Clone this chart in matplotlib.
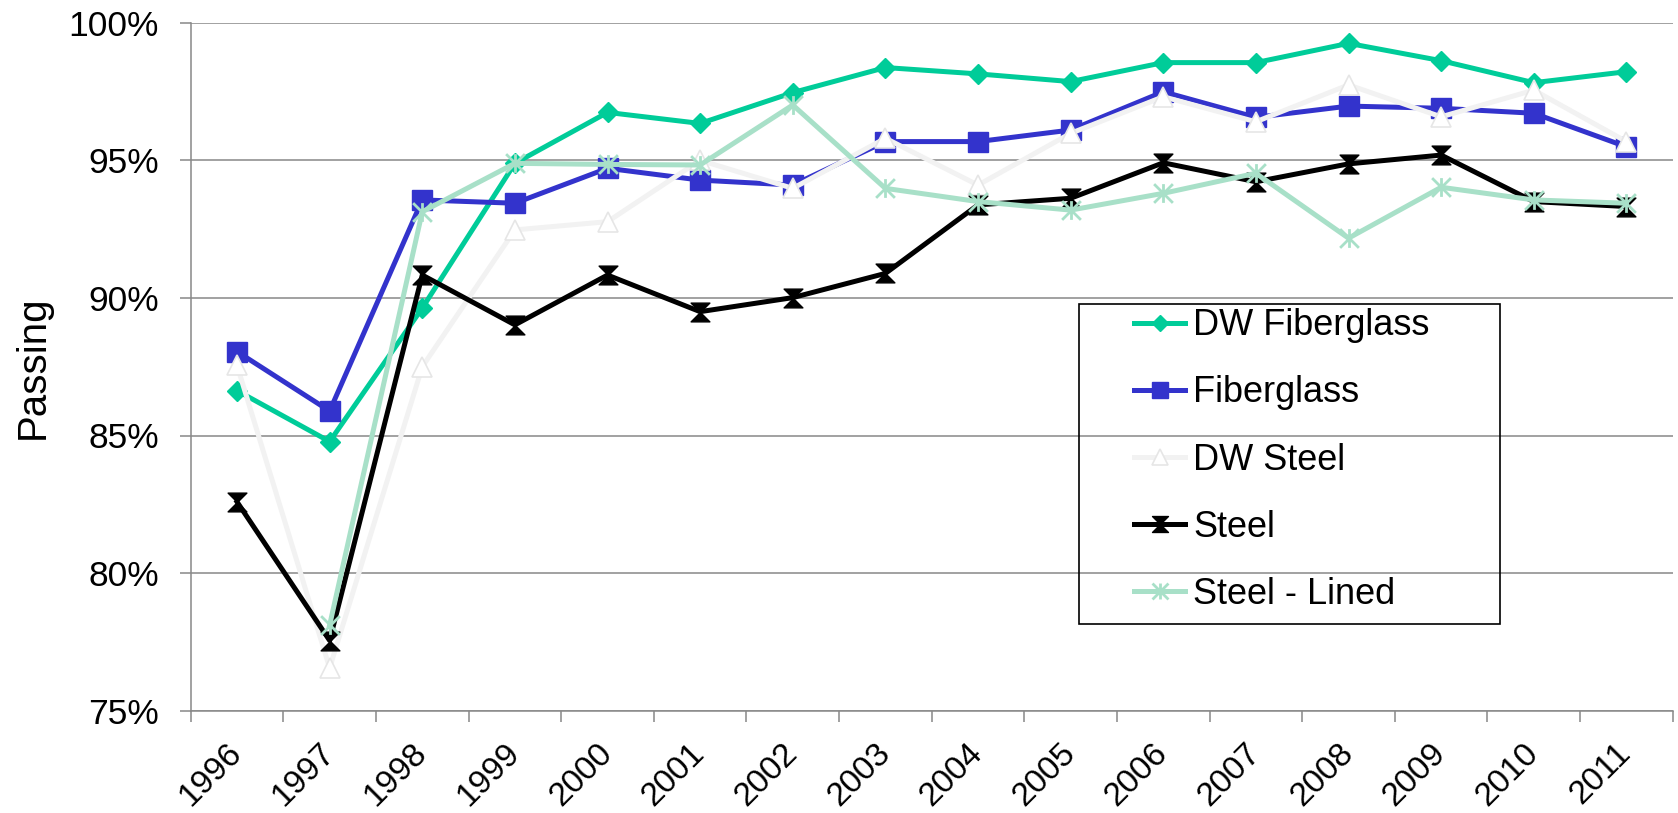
import numpy as np
import matplotlib.pyplot as plt
from matplotlib.path import Path
from matplotlib.patches import Rectangle

plt.rcParams['font.family'] = ['Liberation Sans', 'DejaVu Sans']

# valores (%)
years = [str(y) for y in range(1996, 2012)]
dw_fiberglass = [86.63, 84.78, 89.63, 94.89, 96.74, 96.34, 97.46, 98.37,
                 98.14, 97.86, 98.55, 98.55, 99.25, 98.62, 97.82, 98.22]
fiberglass = [88.05, 85.89, 93.56, 93.44, 94.71, 94.28, 94.10, 95.68,
              95.68, 96.10, 97.49, 96.56, 96.97, 96.89, 96.71, 95.49]
dw_steel = [87.55, 76.55, 87.50, 92.47, 92.77, 95.00, 93.98, 95.80,
            94.10, 95.98, 97.31, 96.40, 97.74, 96.58, 97.55, 95.68]
steel = [82.59, 77.55, 90.83, 89.02, 90.83, 89.50, 90.01, 90.89,
         93.38, 93.62, 94.91, 94.22, 94.87, 95.19, 93.50, 93.32]
steel_lined = [np.nan, 78.11, 93.13, 94.89, 94.85, 94.83, 97.01, 93.98,
               93.50, 93.19, 93.80, 94.53, 92.17, 94.02, 93.56, 93.44]
y_ticks = [75, 80, 85, 90, 95, 100]

# marcadores do excel
hourglass = Path([(-1, 1), (1, 1), (-1, -1), (1, -1), (-1, 1)],
                 [Path.MOVETO, Path.LINETO, Path.LINETO, Path.LINETO, Path.CLOSEPOLY])
star = Path([(0, -1), (0, 1), (-1, -1), (1, 1), (-1, 1), (1, -1)],
            [Path.MOVETO, Path.LINETO, Path.MOVETO, Path.LINETO, Path.MOVETO, Path.LINETO])

fig = plt.figure(figsize=(16.78, 8.13), dpi=100)
ax = fig.add_axes([190.7/1678, 1 - 710.7/813, 1482/1678, 688/813])

x = np.arange(len(years)) + 0.5
lw = 3.6
ax.plot(x, dw_fiberglass, color='#00CC99', lw=lw, marker='D', ms=10, label='DW Fiberglass', zorder=3)
ax.plot(x, fiberglass, color='#3333CC', lw=lw, marker='s', ms=14, label='Fiberglass', zorder=4)
ax.plot(x, dw_steel, color='#F2F2F2', lw=lw, marker='^', ms=14, mfc='white', mec='#E6E6E6',
        mew=1.2, label='DW Steel', zorder=5)
ax.plot(x, steel, color='black', lw=lw, marker=hourglass, ms=13.5, label='Steel', zorder=6)
ax.plot(x, steel_lined, color='#A8E0C8', lw=lw, marker=star, ms=13.5, mew=2, label='Steel - Lined', zorder=7)

ax.set_xlim(0, len(years))
ax.set_ylim(75, 100)
ax.set_yticks(y_ticks)
ax.set_yticklabels([f'{v}%' for v in y_ticks], fontsize=25.5)
ax.set_xticks(np.arange(len(years) + 1))
ax.set_xticklabels([])
ax.set_xticks(x, minor=True)
ax.set_xticklabels(years, minor=True, fontsize=24, rotation=45,
                   ha='right', va='center', rotation_mode='anchor')

ax.tick_params(axis='x', which='major', length=8, width=1.1, color='#888888')
ax.tick_params(axis='x', which='minor', length=0, pad=27)
ax.tick_params(axis='y', length=8, width=1.1, color='#888888', pad=15)
ax.grid(axis='y', color='#888888', lw=1.1)
ax.set_axisbelow(True)
for s in ['top', 'right']:
    ax.spines[s].set_visible(False)
for s in ['left', 'bottom']:
    ax.spines[s].set_color('#888888')
    ax.spines[s].set_linewidth(1.1)

ax.set_ylabel('Passing', fontsize=29)
ax.yaxis.set_label_coords(-0.094, 0.5)

# caixa da legenda
fig.patches.append(Rectangle((1079/1678, 1 - 624/813), 421/1678, 320/813,
                             transform=fig.transFigure, fill=False, ec='black', lw=1.2, zorder=10))
fig.legend(loc='center left', bbox_to_anchor=(1134/1678, 1 - 460/813), frameon=False,
           fontsize=26, handlelength=1.42, handletextpad=0.22, labelspacing=0.89,
           borderpad=0, borderaxespad=0, markerscale=0.85)

fig.savefig('out.png', dpi=100)
